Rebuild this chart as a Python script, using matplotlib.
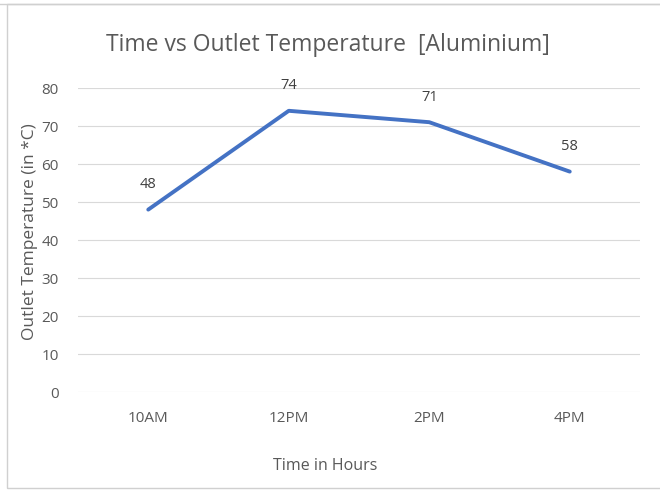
import matplotlib
matplotlib.use("Agg")
import matplotlib.pyplot as plt
from matplotlib.patches import Rectangle

times = ["10AM", "12PM", "2PM", "4PM"]
temps = [48, 74, 71, 58]
yticks = [0, 10, 20, 30, 40, 50, 60, 70, 80]

plt.rcParams['font.family'] = ['Open Sans', 'DejaVu Sans']
txt = "#595959"

fig = plt.figure(figsize=(6.6, 4.91), dpi=100)
fig.patch.set_facecolor("white")
# chart border
fig.add_artist(Rectangle((7/660, 3/491), 1.2, 484/491, transform=fig.transFigure,
                         fill=False, edgecolor="#d0d0d0", linewidth=1.0))
fig.add_artist(plt.Line2D([0, 1], [1 - 4/491, 1 - 4/491], transform=fig.transFigure,
                          color="#d0d0d0", linewidth=1.0))

ax = fig.add_axes([78/660, 1 - 392/491, (640 - 78)/660, (392 - 88)/491])
x = list(range(len(times)))
ax.plot(x, temps, color="#4472C4", linewidth=2.8, solid_capstyle="round")
for xi, v in zip(x, temps):
    ax.annotate(str(v), (xi, v), xytext=(0, 12.5), textcoords="offset points",
                ha="center", va="bottom", fontsize=10.5, color="#404040")

ax.set_xlim(-0.5, len(times) - 0.5)
ax.set_ylim(0, 80)
ax.set_yticks(yticks)
ax.set_xticks(x)
ax.set_xticklabels(times)
ax.grid(axis="y", color="#d9d9d9", linewidth=0.8)
ax.set_axisbelow(True)
for s in ax.spines.values():
    s.set_visible(False)
ax.tick_params(axis="both", length=0, colors=txt, labelsize=11)
ax.tick_params(axis="y", pad=14)
ax.tick_params(axis="x", pad=14)

fig.text(325/660, 1 - 466/491, "Time in Hours", ha="center", va="center",
         fontsize=11.5, color=txt)
fig.text(30/660, 1 - 232/491, "Outlet Temperature (in *C)", ha="center", va="center",
         rotation=90, fontsize=12.5, color=txt)
fig.text(328/660, 1 - 45/491, "Time vs Outlet Temperature  [Aluminium]",
         ha="center", va="center", fontsize=16.5, color=txt)

fig.savefig("out.png", dpi=100)
